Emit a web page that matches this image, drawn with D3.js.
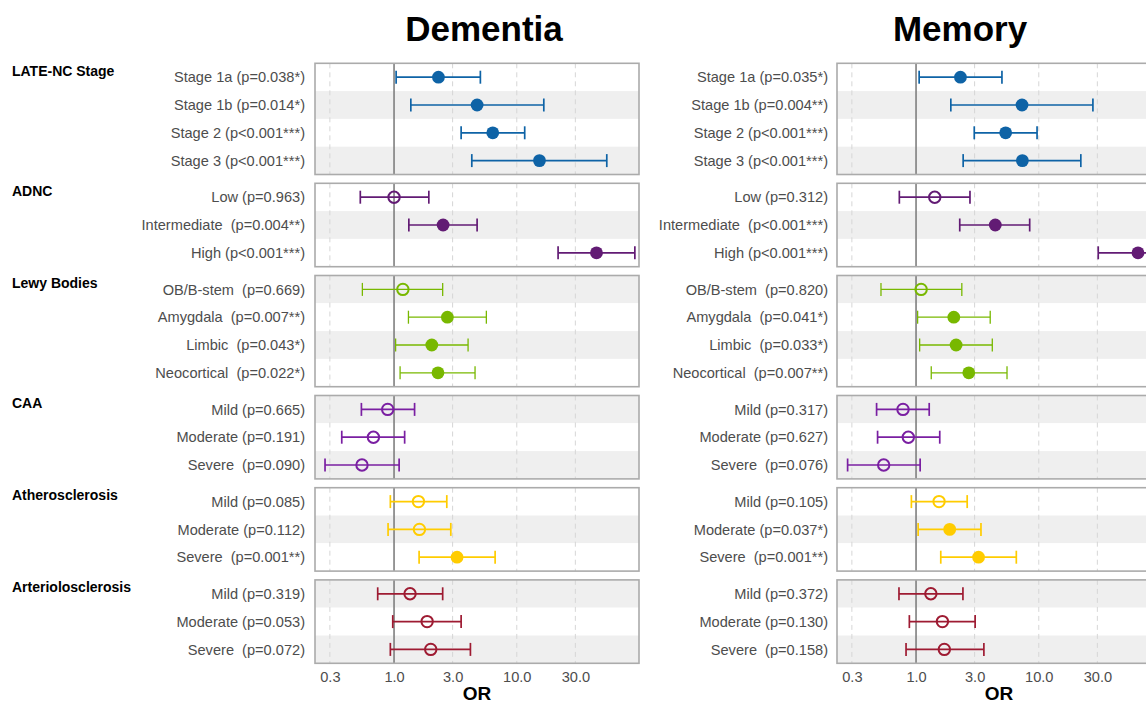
<!DOCTYPE html>
<html>
<head>
<meta charset="utf-8">
<script src="https://cdn.jsdelivr.net/npm/d3@7"></script>
<style>
  html, body { margin: 0; padding: 0; background: #fff; }
  svg { display: block; }
  text { font-family: "Liberation Sans", Arial, sans-serif; }
</style>
</head>
<body>
<svg id="chart" width="1146" height="704"></svg>
<script>
// ---------------- DATA ----------------
const groupNames = ["LATE-NC Stage", "ADNC", "Lewy Bodies", "CAA", "Atherosclerosis", "Arteriolosclerosis"];
const groupSizes = [4, 3, 4, 3, 3, 3];
const panelTitles = ["Dementia", "Memory"];
const tickValues = [0.3, 1, 3, 10, 30];

const dementiaLabels = [
  "Stage 1a (p=0.038*)", "Stage 1b (p=0.014*)", "Stage 2 (p<0.001***)", "Stage 3 (p<0.001***)",
  "Low (p=0.963)", "Intermediate  (p=0.004**)", "High (p<0.001***)",
  "OB/B-stem  (p=0.669)", "Amygdala  (p=0.007**)", "Limbic  (p=0.043*)", "Neocortical  (p=0.022*)",
  "Mild (p=0.665)", "Moderate (p=0.191)", "Severe  (p=0.090)",
  "Mild (p=0.085)", "Moderate (p=0.112)", "Severe  (p=0.001**)",
  "Mild (p=0.319)", "Moderate (p=0.053)", "Severe  (p=0.072)"
];
const dementiaOR = [2.30, 4.75, 6.37, 15.3, 1.00, 2.51, 44.6, 1.18, 2.72, 2.03, 2.28, 0.888, 0.679, 0.548, 1.58, 1.61, 3.26, 1.35, 1.86, 1.99];
const dementiaLo = [1.04, 1.37, 3.52, 4.30, 0.531, 1.32, 21.7, 0.552, 1.31, 1.03, 1.12, 0.542, 0.375, 0.274, 0.933, 0.894, 1.60, 0.736, 0.976, 0.933];
const dementiaHi = [5.05, 16.6, 11.6, 54.1, 1.92, 4.75, 91.6, 2.49, 5.65, 4.01, 4.57, 1.47, 1.22, 1.10, 2.69, 2.90, 6.66, 2.49, 3.52, 4.19];

const memoryLabels = [
  "Stage 1a (p=0.035*)", "Stage 1b (p=0.004**)", "Stage 2 (p<0.001***)", "Stage 3 (p<0.001***)",
  "Low (p=0.312)", "Intermediate  (p<0.001***)", "High (p<0.001***)",
  "OB/B-stem  (p=0.820)", "Amygdala  (p=0.041*)", "Limbic  (p=0.033*)", "Neocortical  (p=0.007**)",
  "Mild (p=0.317)", "Moderate (p=0.627)", "Severe  (p=0.076)",
  "Mild (p=0.105)", "Moderate (p=0.037*)", "Severe  (p=0.001**)",
  "Mild (p=0.372)", "Moderate (p=0.130)", "Severe  (p=0.158)"
];
const memoryOR = [2.30, 7.30, 5.37, 7.35, 1.42, 4.42, 64.3, 1.10, 2.03, 2.12, 2.69, 0.783, 0.865, 0.545, 1.54, 1.88, 3.23, 1.32, 1.64, 1.70];
const memoryLo = [1.06, 1.92, 2.98, 2.42, 0.731, 2.27, 30.5, 0.518, 1.03, 1.07, 1.33, 0.477, 0.486, 0.277, 0.916, 1.04, 1.59, 0.726, 0.882, 0.829];
const memoryHi = [5.01, 27.6, 9.68, 22.0, 2.75, 8.43, 135, 2.36, 4.02, 4.18, 5.51, 1.28, 1.56, 1.08, 2.61, 3.38, 6.56, 2.41, 3.03, 3.57];

// ---------------- STYLE ----------------
const groupColors = ["#0e63a6", "#621b74", "#78b800", "#7a1fa2", "#ffcc00", "#9e1b32"];
const rowH = 27.8, gap = 8.8, top0 = 63.3;
const panels = [
  { title: panelTitles[0], labels: dementiaLabels, or: dementiaOR, lo: dementiaLo, hi: dementiaHi,
    x0: 315, x1: 639, labelX: 305, titleX: 484, groupTitles: true },
  { title: panelTitles[1], labels: memoryLabels, or: memoryOR, lo: memoryLo, hi: memoryHi,
    x0: 837, x1: 1161, labelX: 828, titleX: 960, groupTitles: false }
];

const svg = d3.select("#chart");

// group layout
const groups = [];
let start = 0, y = top0;
groupNames.forEach((g, gi) => {
  const n = groupSizes[gi];
  const idx = d3.range(start, start + n);
  groups.push({ name: g, gi, idx, top: y, bottom: y + n * rowH,
    band: d3.scaleBand().domain(idx).range([y, y + n * rowH]).padding(0) });
  start += n;
  y += n * rowH + gap;
});

panels.forEach(p => {
  const x = d3.scaleLog().domain([0.227, 99]).range([p.x0, p.x1]);
  const g = svg.append("g");

  // title
  svg.append("text").attr("x", p.titleX).attr("y", 41)
    .attr("text-anchor", "middle")
    .style("font-family", "'Liberation Sans Narrow', 'Arial Narrow', 'Liberation Sans', sans-serif")
    .style("font-weight", "bold").style("font-size", "35px").attr("fill", "#000")
    .text(p.title);

  groups.forEach(gr => {
    const gg = g.append("g");
    // stripes
    gg.selectAll("rect.stripe").data(gr.idx).join("rect")
      .attr("x", p.x0).attr("width", p.x1 - p.x0)
      .attr("y", i => gr.band(i)).attr("height", gr.band.bandwidth())
      .attr("fill", i => (i % 2 === 1) ? "#efefef" : "#ffffff");
    // grid lines
    gg.selectAll("line.grid").data(tickValues.filter(t => t !== 1)).join("line")
      .attr("x1", d => x(d)).attr("x2", d => x(d))
      .attr("y1", gr.top).attr("y2", gr.bottom)
      .attr("stroke", "#d6d6d6").attr("stroke-width", 1).attr("stroke-dasharray", "5,4");
    // reference line at OR = 1
    gg.append("line").attr("x1", x(1)).attr("x2", x(1))
      .attr("y1", gr.top).attr("y2", gr.bottom)
      .attr("stroke", "#7f7f7f").attr("stroke-width", 1.6);

    const col = groupColors[gr.gi];
    const cy = i => gr.band(i) + gr.band.bandwidth() / 2;
    const sw = gr.gi === 2 ? 1.3 : 1.7;
    // error bars
    gg.selectAll("line.ci").data(gr.idx).join("line")
      .attr("x1", i => x(p.lo[i])).attr("x2", i => x(p.hi[i]))
      .attr("y1", cy).attr("y2", cy)
      .attr("stroke", col).attr("stroke-width", sw);
    gg.selectAll("line.capl").data(gr.idx).join("line")
      .attr("x1", i => x(p.lo[i])).attr("x2", i => x(p.lo[i]))
      .attr("y1", i => cy(i) - 6.5).attr("y2", i => cy(i) + 6.5)
      .attr("stroke", col).attr("stroke-width", sw);
    gg.selectAll("line.caph").data(gr.idx).join("line")
      .attr("x1", i => x(p.hi[i])).attr("x2", i => x(p.hi[i]))
      .attr("y1", i => cy(i) - 6.5).attr("y2", i => cy(i) + 6.5)
      .attr("stroke", col).attr("stroke-width", sw);
    // points
    gg.selectAll("circle.pt").data(gr.idx).join("circle")
      .attr("cx", i => x(p.or[i])).attr("cy", cy)
      .attr("r", i => p.labels[i].includes("*") ? 6.4 : 5.7)
      .attr("fill", i => p.labels[i].includes("*") ? col : "none")
      .attr("stroke", col)
      .attr("stroke-width", i => p.labels[i].includes("*") ? 0 : 2);
    // frame
    gg.append("rect").attr("x", p.x0).attr("y", gr.top)
      .attr("width", p.x1 - p.x0).attr("height", gr.bottom - gr.top)
      .attr("fill", "none").attr("stroke", "#ababab").attr("stroke-width", 1.6);

    // row labels
    gg.selectAll("text.lbl").data(gr.idx).join("text")
      .attr("x", p.labelX).attr("y", cy).attr("dy", "0.35em")
      .attr("text-anchor", "end").style("white-space", "pre")
      .style("font-size", "14.6px").attr("fill", "#4d4d4d")
      .text(i => p.labels[i]);

    if (p.groupTitles) {
      gg.append("text").attr("x", 12).attr("y", gr.top + 12.5)
        .style("font-weight", "bold").style("font-size", "14px").attr("fill", "#000")
        .text(gr.name);
    }
  });

  // x axis
  const last = groups[groups.length - 1];
  const axis = d3.axisBottom(x).tickValues(tickValues).tickFormat(d3.format(".1f")).tickSize(0).tickPadding(8);
  const ax = svg.append("g").attr("transform", `translate(0,${last.bottom})`).call(axis);
  ax.select(".domain").remove();
  ax.selectAll("text").style("font-size", "14.6px").attr("fill", "#4d4d4d")
    .style("font-family", "'Liberation Sans', Arial, sans-serif");

  svg.append("text").attr("x", (p.x0 + p.x1) / 2).attr("y", 700)
    .attr("text-anchor", "middle").style("font-weight", "bold").style("font-size", "19px")
    .attr("fill", "#000").text("OR");
});
</script>
</body>
</html>
